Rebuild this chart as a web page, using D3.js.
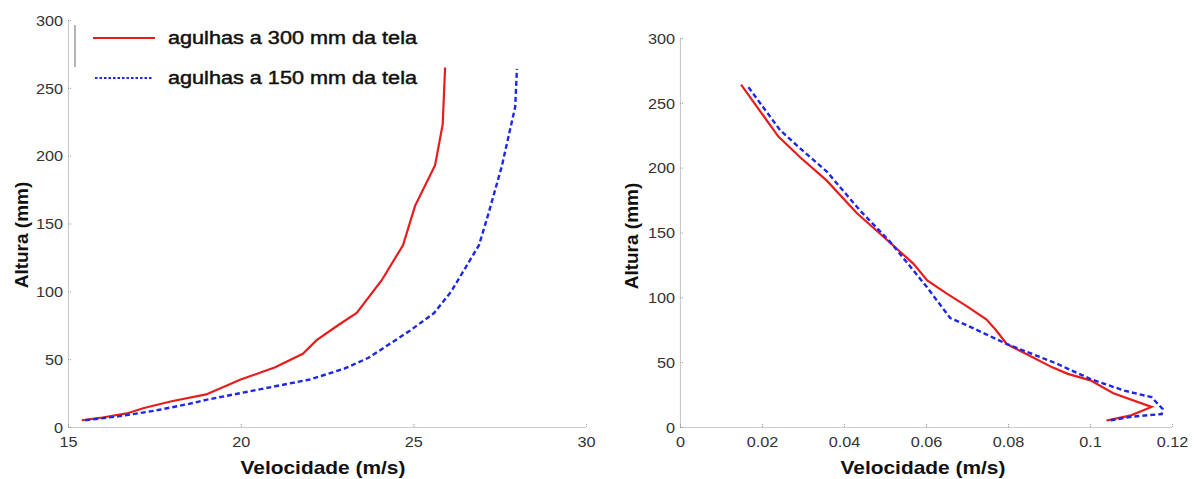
<!DOCTYPE html>
<html><head><meta charset="utf-8">
<script src="https://cdn.jsdelivr.net/npm/d3@7"></script>
<style>body{margin:0;background:#fff}svg{display:block}text{font-family:Arial,"Liberation Sans",sans-serif}</style>
</head><body><svg id="c" width="1196" height="479"></svg>
<script>
// ---- data ----
const legendLabels = ["agulhas a 300 mm da tela", "agulhas a 150 mm da tela"];
const xTitle = "Velocidade (m/s)";
const yTitle = "Altura (mm)";
const leftXTicks = [15, 20, 25, 30];
const rightXTicks = [0, 0.02, 0.04, 0.06, 0.08, 0.1, 0.12];
const yTicks = [0, 50, 100, 150, 200, 250, 300];

// left panel: [velocity, height]
const left300 = [[15.4,5],[16.0,7],[16.7,10],[17.2,14],[18.0,19],[19.0,24],[20.0,35],[21.0,44],[21.8,54],[22.2,64],[22.82,75],[23.36,84],[24.08,108],[24.7,134],[25.05,163],[25.63,193],[25.85,223],[25.92,265]];
const left150 = [[15.5,5],[16.5,8],[17.5,12],[18.5,17],[19.0,20],[20.0,25],[21.0,30],[22.0,35],[23.0,43],[23.7,51],[24.3,61],[24.9,71],[25.6,84],[26.1,100],[26.5,117],[26.9,134],[27.15,155],[27.56,192],[27.95,236],[28.0,264]];
// right panel: [velocity, height]
const right300 = [[0.0149,264],[0.024,224],[0.0293,208],[0.0358,190],[0.0431,165],[0.0488,149],[0.052,140],[0.0569,126],[0.0603,113],[0.065,103],[0.070,93],[0.0747,83],[0.077,75],[0.0797,64],[0.0853,55],[0.0908,46],[0.0946,41],[0.1001,36],[0.1057,26],[0.115,15.5],[0.110,9],[0.104,5]];
const right150 = [[0.0167,262],[0.0244,229],[0.0289,216],[0.0358,197],[0.0439,167],[0.0512,143],[0.0602,108],[0.0659,84],[0.0696,79],[0.0797,64],[0.0918,49],[0.1001,37],[0.1084,28],[0.115,23],[0.1177,14],[0.1175,10],[0.1103,8],[0.1047,5]];

// ---- drawing ----
const svg = d3.select("#c");
svg.append("rect").attr("width",1196).attr("height",479).attr("fill","#fff");
const RED = "#e81c1c", BLUE = "#1c28e6";

function stretch(sel, k){
  sel.each(function(){
    const l = this.getComputedTextLength();
    d3.select(this).attr("textLength", l*k).attr("lengthAdjust","spacingAndGlyphs");
  });
}

function panel(cfg){
  const x = d3.scaleLinear().domain(cfg.xdom).range(cfg.xr);
  const y = d3.scaleLinear().domain([0,300]).range(cfg.yr);
  const g = svg.append("g");
  const ax = g.append("g").attr("transform",`translate(0,${cfg.yr[0]})`)
    .call(d3.axisBottom(x).tickValues(cfg.xticks).tickSizeInner(-4).tickSizeOuter(0).tickPadding(6).tickFormat(d3.format("~g")));
  const ay = g.append("g").attr("transform",`translate(${cfg.xr[0]},0)`)
    .call(d3.axisLeft(y).tickValues(yTicks).tickSizeInner(-4).tickSizeOuter(0).tickPadding(5));
  [ax, ay].forEach(a => {
    a.select(".domain").attr("stroke","#9a9a9a").attr("stroke-width",1.2).attr("stroke-dasharray","1,1");
    a.selectAll(".tick line").attr("stroke","#9a9a9a").attr("stroke-dasharray","1,1");
    a.selectAll(".tick text").attr("fill","#333").style("font-size","14.5px");
    stretch(a.selectAll(".tick text"), 1.12);
  });
  ax.selectAll(".tick text").attr("dy","0.95em");
  ay.selectAll(".tick text").attr("dy","0.36em");
  const line = d3.line().x(d=>x(d[0])).y(d=>y(d[1]));
  g.append("path").datum(cfg.s300).attr("d",line).attr("fill","none").attr("stroke",RED).attr("stroke-width",2.2);
  g.append("path").datum(cfg.s150).attr("d",line).attr("fill","none").attr("stroke",BLUE).attr("stroke-width",2.4).attr("stroke-dasharray","5,3");
  // titles
  const xt = g.append("text").attr("x",cfg.xtx).attr("y",474).attr("text-anchor","middle")
    .attr("fill","#111").style("font-size","19px").style("font-weight","bold").text(xTitle);
  stretch(xt, 1.1);
  g.append("text").attr("transform",`translate(${cfg.ytx},${cfg.yty}) rotate(-90)`).attr("text-anchor","middle")
    .attr("fill","#111").style("font-size","19px").style("font-weight","bold").text(yTitle);
  return {x,y,g};
}

panel({xdom:[15,30], xr:[68,586], yr:[427,20], xticks:leftXTicks, s300:left300, s150:left150, xtx:323, ytx:28, yty:235});
panel({xdom:[0,0.12], xr:[680,1172], yr:[427,38], xticks:rightXTicks, s300:right300, s150:right150, xtx:923, ytx:638, yty:236});

// small gray artifact bar near left y axis
svg.append("line").attr("x1",75).attr("x2",75).attr("y1",25).attr("y2",67).attr("stroke","#b5b5b5").attr("stroke-width",2);

// legend
const leg = svg.append("g");
const legY = [38, 78];
leg.append("line").attr("x1",93).attr("x2",155).attr("y1",legY[0]).attr("y2",legY[0]).attr("stroke",RED).attr("stroke-width",1.8);
leg.append("line").attr("x1",95).attr("x2",153).attr("y1",legY[1]).attr("y2",legY[1]).attr("stroke",BLUE).attr("stroke-width",2.2).attr("stroke-dasharray","2.5,2");
legendLabels.forEach((t,i)=>{
  leg.append("text").attr("x",168).attr("y",legY[i]+6).attr("fill","#111").attr("stroke","#111").attr("stroke-width",0.45)
    .style("font-size","17.5px").attr("textLength",249).attr("lengthAdjust","spacingAndGlyphs").text(t);
});
</script></body></html>
